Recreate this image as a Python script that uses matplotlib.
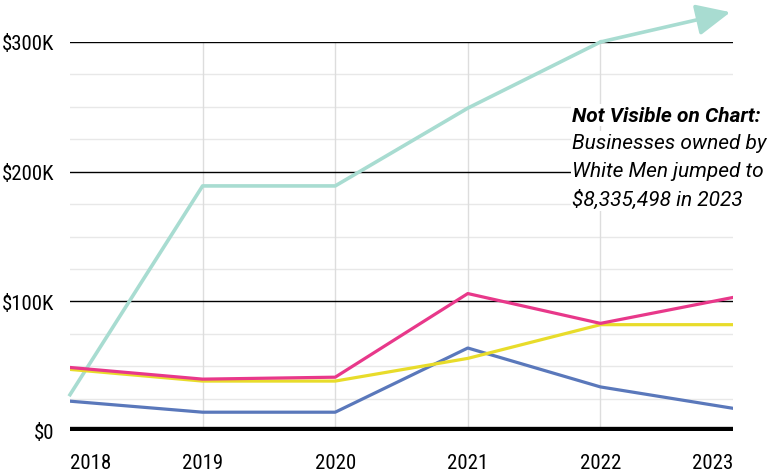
import matplotlib.pyplot as plt
import numpy as np
from matplotlib import ticker

years = [2018, 2019, 2020, 2021, 2022, 2023]
white_men = [28000, 189000, 189000, 249000, 300000]  # 2023 off the chart
arrow_end = 323000
pink = [49000, 40000, 41500, 106000, 83000, 103000]
yellow = [47500, 38500, 38500, 56000, 82000, 82000]
blue = [23000, 14500, 14500, 64000, 34000, 17500]

yticks = [0, 100000, 200000, 300000]
ytick_labels = ["$0", "$100K", "$200K", "$300K"]

cond = ["Roboto Condensed", "DejaVu Sans"]

fig = plt.figure(figsize=(7.77, 4.77), dpi=100)
ax = fig.add_axes([70 / 777, 1 - 432 / 477, (733 - 70) / 777, (432 - 43) / 477])

ax.set_xlim(2018, 2023)
ax.set_ylim(0, 300000)

# grid
for y in np.arange(25000, 300000, 25000):
    if y % 100000:
        ax.axhline(y, color="#e8e8e8", lw=1, zorder=0)
for y in [100000, 200000, 300000]:
    ax.axhline(y, color="black", lw=1, zorder=1)
for x in years[1:-1]:
    ax.axvline(x, color="#dddddd", lw=1, zorder=0)
ax.axhline(0, color="black", lw=6, zorder=5, solid_capstyle="butt")

ax.plot(years[:5], white_men, color="#a8dcd1", lw=2.6, zorder=3, clip_on=False)
ax.annotate("", xy=(2022.98, arrow_end), xytext=(years[4], white_men[4]),
            arrowprops=dict(arrowstyle="-|>,head_length=1.3,head_width=0.6",
                            mutation_scale=16,
                            color="#a8dcd1", lw=2.6, shrinkA=0, shrinkB=0),
            annotation_clip=False, zorder=3)
ax.plot(years, blue, color="#5a78bb", lw=2.3, zorder=3)
ax.plot(years, yellow, color="#e8dc2a", lw=2.3, zorder=3)
ax.plot(years, pink, color="#e8388a", lw=2.3, zorder=4)

for s in ax.spines.values():
    s.set_visible(False)
ax.tick_params(length=0)
ax.set_yticks(yticks)
ax.set_yticklabels(ytick_labels, family=cond, fontsize=15)
ax.set_xticks(years)
ax.set_xticklabels([str(y) for y in years], family=cond, fontsize=15)
ax.tick_params(axis="y", pad=11)
ax.tick_params(axis="x", pad=16)
labels = ax.get_xticklabels()
labels[0].set_ha("left")
labels[-1].set_ha("right")

fig.text(572 / 777, 1 - 116 / 477, "Not Visible on Chart:", family="Roboto",
         style="italic", weight="bold", fontsize=15, va="center", ha="left",
         bbox=dict(facecolor="white", edgecolor="none", pad=1))
fig.text(572 / 777, 1 - 172 / 477,
         "Businesses owned by\nWhite Men jumped to\n$8,335,498 in 2023",
         family="Roboto", style="italic", fontsize=15, va="center", ha="left",
         linespacing=1.6,
         bbox=dict(facecolor="white", edgecolor="none", pad=1))

fig.savefig("out.png", dpi=100)
